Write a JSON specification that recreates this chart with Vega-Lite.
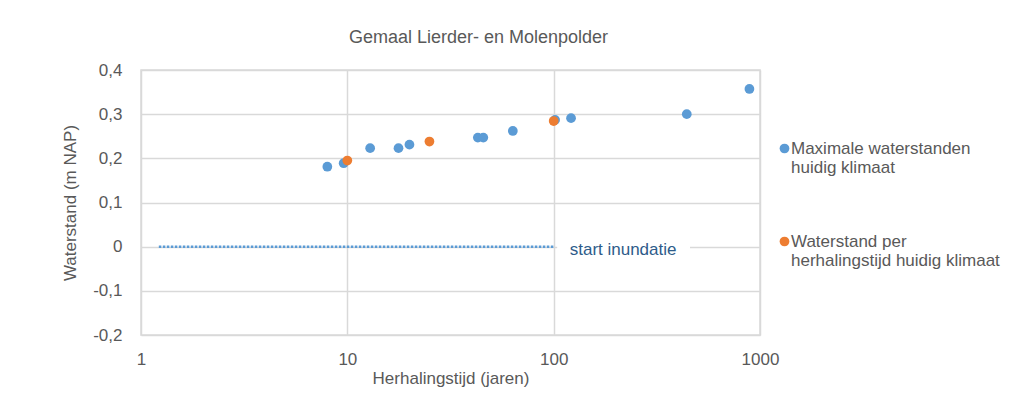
{
  "$schema": "https://vega.github.io/schema/vega-lite/v6.json",
  "width": 619,
  "height": 265,
  "autosize": {"type": "none"},
  "padding": {"left": 141, "top": 70, "right": 249, "bottom": 81},
  "background": "white",
  "config": {
    "font": "Liberation Sans",
    "view": {"stroke": "#D9D9D9", "strokeWidth": 1.5},
    "axis": {
      "grid": true,
      "gridColor": "#D9D9D9",
      "gridWidth": 1.5,
      "domain": false,
      "ticks": false,
      "tickSize": 0,
      "labelFlush": false,
      "labelFont": "Liberation Sans",
      "labelFontSize": 17,
      "labelColor": "#595959",
      "titleFont": "Liberation Sans",
      "titleFontSize": 17,
      "titleFontWeight": "normal",
      "titleColor": "#595959"
    }
  },
  "title": {
    "text": "Gemaal Lierder- en Molenpolder",
    "font": "Liberation Sans",
    "fontSize": 18,
    "fontWeight": "normal",
    "color": "#595959",
    "anchor": "middle",
    "frame": "group",
    "baseline": "alphabetic",
    "offset": 0,
    "dx": 28
  },
  "datasets": {
    "points": [
      {"x": 8.0, "y": 0.181, "series": "Maximale waterstanden huidig klimaat"},
      {"x": 9.6, "y": 0.189, "series": "Maximale waterstanden huidig klimaat"},
      {"x": 12.9, "y": 0.223, "series": "Maximale waterstanden huidig klimaat"},
      {"x": 17.7, "y": 0.223, "series": "Maximale waterstanden huidig klimaat"},
      {"x": 20.0, "y": 0.231, "series": "Maximale waterstanden huidig klimaat"},
      {"x": 42.9, "y": 0.247, "series": "Maximale waterstanden huidig klimaat"},
      {"x": 45.6, "y": 0.247, "series": "Maximale waterstanden huidig klimaat"},
      {"x": 63.4, "y": 0.262, "series": "Maximale waterstanden huidig klimaat"},
      {"x": 101.6, "y": 0.287, "series": "Maximale waterstanden huidig klimaat"},
      {"x": 121.4, "y": 0.291, "series": "Maximale waterstanden huidig klimaat"},
      {"x": 441.7, "y": 0.300, "series": "Maximale waterstanden huidig klimaat"},
      {"x": 888.6, "y": 0.357, "series": "Maximale waterstanden huidig klimaat"},
      {"x": 10, "y": 0.195, "series": "Waterstand per herhalingstijd huidig klimaat"},
      {"x": 25, "y": 0.238, "series": "Waterstand per herhalingstijd huidig klimaat"},
      {"x": 100, "y": 0.2845, "series": "Waterstand per herhalingstijd huidig klimaat"}
    ],
    "inundatie": [
      {"x": 1.22, "x2": 100, "y": 0}
    ],
    "labelbox": [
      {"x": 104, "x2": 458, "y": -0.02, "y2": 0.02}
    ],
    "label": [
      {"x": 217, "y": 0, "text": "start inundatie"}
    ]
  },
  "layer": [
    {
      "data": {"name": "labelbox"},
      "mark": {"type": "rect", "fill": "white", "stroke": null},
      "encoding": {
        "x": {"field": "x", "type": "quantitative"},
        "x2": {"field": "x2"},
        "y": {"field": "y", "type": "quantitative"},
        "y2": {"field": "y2"}
      }
    },
    {
      "data": {"name": "inundatie"},
      "mark": {"type": "rule", "color": "#5B9BD5", "strokeWidth": 2.5, "strokeDash": [2.5, 1.5]},
      "encoding": {
        "x": {"field": "x", "type": "quantitative"},
        "x2": {"field": "x2"},
        "y": {"field": "y", "type": "quantitative"}
      }
    },
    {
      "data": {"name": "label"},
      "mark": {"type": "text", "font": "Liberation Sans", "fontSize": 17, "color": "#2E5C8A", "align": "center", "baseline": "middle", "dy": 3},
      "encoding": {
        "x": {"field": "x", "type": "quantitative"},
        "y": {"field": "y", "type": "quantitative"},
        "text": {"field": "text"}
      }
    },
    {
      "data": {"name": "points"},
      "mark": {"type": "point", "filled": true, "opacity": 1, "size": 95, "shape": "circle"},
      "encoding": {
        "x": {
          "field": "x",
          "type": "quantitative",
          "scale": {"type": "log", "domain": [1, 1000], "nice": false},
          "axis": {
            "title": "Herhalingstijd (jaren)",
            "values": [1, 10, 100, 1000],
            "format": "d",
            "labelPadding": 16,
            "titlePadding": 3
          }
        },
        "y": {
          "field": "y",
          "type": "quantitative",
          "scale": {"domain": [-0.2, 0.4], "nice": false, "zero": false},
          "axis": {
            "title": "Waterstand (m NAP)",
            "values": [-0.2, -0.1, 0, 0.1, 0.2, 0.3, 0.4],
            "labelExpr": "datum.value == 0 ? '0' : replace(replace(format(datum.value, '.1f'), '.', ','), '\u2212', '-')",
            "labelPadding": 19,
            "titlePadding": 13
          }
        },
        "color": {
          "field": "series",
          "type": "nominal",
          "scale": {
            "domain": ["Maximale waterstanden huidig klimaat", "Waterstand per herhalingstijd huidig klimaat"],
            "range": ["#5B9BD5", "#ED7D31"]
          },
          "legend": {
            "title": null,
            "orient": "none",
            "legendX": 635,
            "legendY": 70,
            "padding": 0,
            "symbolType": "circle",
            "symbolSize": 95,
            "symbolStrokeWidth": 0,
            "labelFont": "Liberation Sans",
            "labelFontSize": 17,
            "labelColor": "#595959",
            "labelLimit": 400,
            "labelOffset": -2,
            "labelBaseline": "middle",
            "rowPadding": 56,
            "labelExpr": "datum.label == 'Maximale waterstanden huidig klimaat' ? ['Maximale waterstanden', 'huidig klimaat'] : ['Waterstand per', 'herhalingstijd huidig klimaat']",
            "encode": {"labels": {"update": {"lineHeight": {"value": 21}}}}
          }
        }
      }
    }
  ]
}
